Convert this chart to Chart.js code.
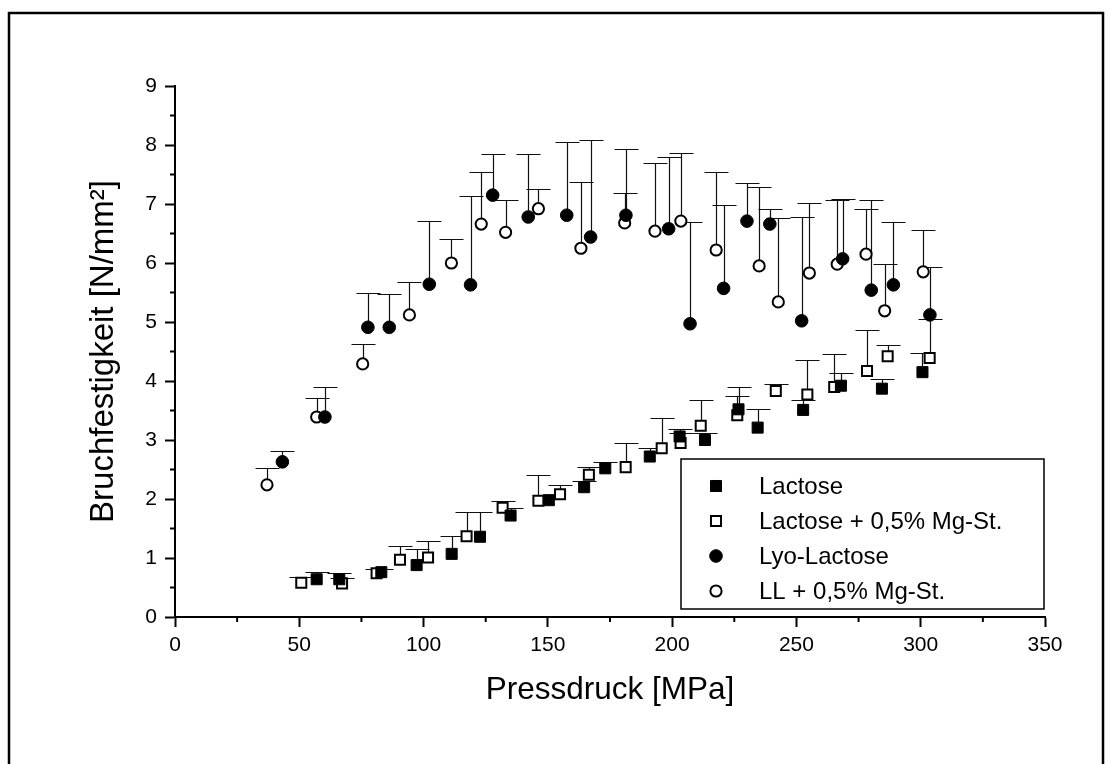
<!DOCTYPE html>
<html lang="de">
<head>
  <meta charset="UTF-8" />
  <title>Bruchfestigkeit vs. Pressdruck</title>
  <script src="https://cdn.jsdelivr.net/npm/chart.js"></script>
  <style>
    html, body { margin: 0; padding: 0; background: #fff; overflow: hidden; }
    .wrap { position: relative; width: 1111px; height: 764px; }
  </style>
</head>
<body>
  <div class="wrap">
    <canvas id="chart"></canvas>
  </div>

  <script>
    // Lactose (gefuellte Quadrate)
    const lacX = [57, 66.1, 83, 97.2, 111.3, 122.7, 135, 150.4, 164.6, 173.1, 191, 203, 213.2, 226.7, 234.4, 252.7, 267.9, 284.4, 300.7];
    const lacY = [0.64, 0.64, 0.76, 0.88, 1.07, 1.36, 1.72, 1.98, 2.20, 2.52, 2.72, 3.06, 3.00, 3.52, 3.21, 3.51, 3.92, 3.87, 4.15];
    const lacHi = [0.76, 0.75, 0.82, 1.16, 1.38, 1.78, 1.84, 2.05, 2.30, 2.62, 2.86, 3.19, 3.12, 3.90, 3.53, 3.68, 4.13, 4.03, 4.48];

    // Lactose + 0,5% Mg-St. (offene Quadrate)
    const lacMgX = [50.8, 67.2, 81.1, 90.5, 101.8, 117.3, 131.8, 146.2, 154.9, 166.5, 181.3, 195.8, 203.4, 211.5, 226.2, 241.7, 254.4, 265.2, 278.4, 286.7, 303.6];
    const lacMgY = [0.58, 0.57, 0.74, 0.97, 1.01, 1.37, 1.85, 1.97, 2.08, 2.41, 2.54, 2.86, 2.95, 3.24, 3.42, 3.83, 3.77, 3.90, 4.17, 4.42, 4.39];
    const lacMgHi = [0.68, 0.66, 0.81, 1.20, 1.28, 1.78, 1.97, 2.41, 2.24, 2.54, 2.95, 3.38, 3.12, 3.68, 3.75, 3.95, 4.36, 4.46, 4.87, 4.61, 5.05];

    // Lyo-Lactose (gefuellte Kreise)
    const lyoX = [43.2, 60.3, 77.6, 86.2, 102.3, 118.9, 127.8, 142.1, 157.6, 167.2, 181.4, 198.6, 207.2, 220.7, 230.1, 239.3, 252.1, 268.6, 280.1, 289, 303.7];
    const lyoY = [2.63, 3.39, 4.91, 4.91, 5.64, 5.63, 7.15, 6.78, 6.81, 6.44, 6.81, 6.58, 4.97, 5.57, 6.71, 6.66, 5.02, 6.07, 5.54, 5.63, 5.12];
    const lyoHi = [2.82, 3.90, 5.50, 5.47, 6.71, 7.14, 7.84, 7.84, 8.05, 8.08, 7.94, 7.80, 6.69, 6.98, 7.35, 6.91, 6.78, 7.08, 7.06, 6.69, 5.93];

    // LL + 0,5% Mg-St. (offene Kreise)
    const llMgX = [37, 57, 75.5, 94.3, 111.2, 123.2, 133, 146.2, 163.3, 180.9, 193.1, 203.5, 217.7, 235, 242.7, 255.2, 266.4, 278, 285.5, 301];
    const llMgY = [2.24, 3.39, 4.29, 5.12, 6.00, 6.66, 6.52, 6.92, 6.25, 6.68, 6.54, 6.71, 6.22, 5.95, 5.34, 5.83, 5.98, 6.15, 5.19, 5.85];
    const llMgHi = [2.53, 3.72, 4.62, 5.67, 6.40, 7.55, 7.06, 7.25, 7.37, 7.18, 7.69, 7.86, 7.55, 7.29, 6.76, 7.02, 7.07, 6.92, 5.98, 6.56];

    const seriesNames = ["Lactose", "Lactose + 0,5% Mg-St.", "Lyo-Lactose", "LL + 0,5% Mg-St."];

    // Achsen
    const xTicks = [0, 50, 100, 150, 200, 250, 300, 350];
    const xMinor = [25, 75, 125, 175, 225, 275, 325];
    const yTicks = [0, 1, 2, 3, 4, 5, 6, 7, 8, 9];
    const yMinor = [0.5, 1.5, 2.5, 3.5, 4.5, 5.5, 6.5, 7.5, 8.5];

    const FONT = "'Liberation Sans', Arial, sans-serif";

    const toPoints = (xs, ys) => xs.map((x, i) => ({ x: x, y: ys[i] }));
    const highs = [lacHi, lacMgHi, lyoHi, llMgHi];

    // Fehlerbalken (nur nach oben, mit Kappe)
    const errorBars = {
      id: "errorBars",
      beforeDatasetsDraw(chart) {
        const ctx = chart.ctx;
        const xs = chart.scales.x, ys = chart.scales.y;
        ctx.save();
        ctx.strokeStyle = "#111";
        ctx.lineWidth = 1.2;
        chart.data.datasets.forEach((ds, i) => {
          ds.data.forEach((p, j) => {
            const px = Math.round(xs.getPixelForValue(p.x)) + 0.5;
            const y0 = ys.getPixelForValue(p.y);
            const y1 = Math.round(ys.getPixelForValue(highs[i][j])) + 0.5;
            ctx.beginPath();
            ctx.moveTo(px, y0);
            ctx.lineTo(px, y1);
            ctx.moveTo(px - 12, y1);
            ctx.lineTo(px + 12, y1);
            ctx.stroke();
          });
        });
        ctx.restore();
      }
    };

    // Nebenstriche, Rahmen, Legende
    const decor = {
      id: "decor",
      afterDraw(chart) {
        const ctx = chart.ctx;
        const xs = chart.scales.x, ys = chart.scales.y;
        const area = chart.chartArea;
        ctx.save();
        ctx.strokeStyle = "#000";
        ctx.lineWidth = 2;
        ctx.beginPath();
        xMinor.forEach(v => {
          const px = xs.getPixelForValue(v);
          ctx.moveTo(px, area.bottom);
          ctx.lineTo(px, area.bottom + 5);
        });
        yMinor.forEach(v => {
          const py = ys.getPixelForValue(v);
          ctx.moveTo(area.left, py);
          ctx.lineTo(area.left - 5, py);
        });
        ctx.stroke();

        // aeusserer Rahmen
        ctx.lineWidth = 2.5;
        ctx.strokeRect(9, 13, 1094, 770);

        // Legende
        const lx = 681, ly = 459, lw = 363, lh = 150;
        ctx.fillStyle = "#fff";
        ctx.fillRect(lx, ly, lw, lh);
        ctx.lineWidth = 1.5;
        ctx.strokeRect(lx, ly, lw, lh);
        ctx.font = "24px " + FONT;
        ctx.textBaseline = "middle";
        chart.data.datasets.forEach((ds, i) => {
          const cy = ly + 27 + i * 35;
          const cx = lx + 35;
          ctx.beginPath();
          if (ds.pointStyle === "rect") {
            ctx.rect(cx - ds.pointRadius * Math.SQRT1_2, cy - ds.pointRadius * Math.SQRT1_2,
                     2 * ds.pointRadius * Math.SQRT1_2, 2 * ds.pointRadius * Math.SQRT1_2);
          } else {
            ctx.arc(cx, cy, ds.pointRadius, 0, Math.PI * 2);
          }
          ctx.fillStyle = ds.backgroundColor;
          ctx.fill();
          ctx.lineWidth = ds.borderWidth;
          ctx.strokeStyle = "#000";
          ctx.stroke();
          ctx.fillStyle = "#000";
          ctx.fillText(ds.label, lx + 78, cy + 1);
        });
        ctx.restore();
      }
    };

    new Chart(document.getElementById("chart"), {
      type: "scatter",
      data: {
        datasets: [
          { label: seriesNames[0], data: toPoints(lacX, lacY), pointStyle: "rect", pointRadius: 7.8,
            backgroundColor: "#000", borderColor: "#000", borderWidth: 1 },
          { label: seriesNames[1], data: toPoints(lacMgX, lacMgY), pointStyle: "rect", pointRadius: 7.1,
            backgroundColor: "#fff", borderColor: "#000", borderWidth: 2 },
          { label: seriesNames[2], data: toPoints(lyoX, lyoY), pointStyle: "circle", pointRadius: 6.3,
            backgroundColor: "#000", borderColor: "#000", borderWidth: 1 },
          { label: seriesNames[3], data: toPoints(llMgX, llMgY), pointStyle: "circle", pointRadius: 5.6,
            backgroundColor: "#fff", borderColor: "#000", borderWidth: 2 }
        ]
      },
      options: {
        responsive: true,
        maintainAspectRatio: false,
        animation: false,
        events: [],
        layout: { padding: { left: 0, top: 86, right: 66, bottom: 40 } },
        plugins: {
          legend: { display: false },
          tooltip: { enabled: false }
        },
        elements: { point: { hoverRadius: 0 } },
        scales: {
          x: {
            type: "linear",
            min: 0,
            max: 350,
            afterBuildTicks: s => { s.ticks = xTicks.map(v => ({ value: v })); },
            afterFit: s => { s.height = 107; },
            border: { display: true, color: "#000", width: 2 },
            grid: { drawOnChartArea: false, drawTicks: true, tickLength: 10, tickWidth: 2, tickColor: "#000" },
            ticks: { color: "#000", padding: 6, font: { family: FONT, size: 21 }, maxRotation: 0 },
            title: {
              display: true,
              text: "Pressdruck [MPa]",
              color: "#000",
              font: { family: FONT, size: 31.5 },
              padding: { top: 0, bottom: 15 }
            }
          },
          y: {
            type: "linear",
            min: 0,
            max: 9,
            afterBuildTicks: s => { s.ticks = yTicks.map(v => ({ value: v })); },
            afterFit: s => { s.width = 175; },
            border: { display: true, color: "#000", width: 2 },
            grid: { drawOnChartArea: false, drawTicks: true, tickLength: 10, tickWidth: 2, tickColor: "#000" },
            ticks: { color: "#000", padding: 8, font: { family: FONT, size: 21 } },
            title: {
              display: true,
              text: "Bruchfestigkeit [N/mm²]",
              color: "#000",
              font: { family: FONT, size: 33 },
              padding: { top: 84, bottom: 0 }
            }
          }
        }
      },
      plugins: [errorBars, decor]
    });
  </script>
</body>
</html>
